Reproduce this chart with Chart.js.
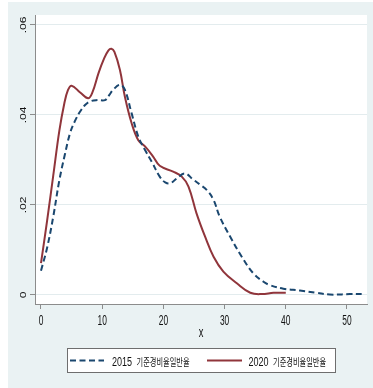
<!DOCTYPE html>
<html>
<head>
<meta charset="utf-8">
<script src="https://cdn.jsdelivr.net/npm/chart.js@4/dist/chart.umd.min.js"></script>
<style>
  html, body { margin: 0; padding: 0; background: #ffffff; }
  canvas { display: block; }
</style>
</head>
<body>
<canvas id="c" width="373" height="388"></canvas>
<script>
// Kernel density estimates of the two rate series
const xs2015 = [0, 1.0, 2.0, 3.0, 3.9, 4.74, 5.5, 6.37, 7.2, 8.0, 9.2, 10.46, 11.2, 11.8, 12.9, 13.7, 14.8, 15.9, 17.0, 18.1, 19.4, 20.3, 21.1, 22.2, 23.5, 24.9, 26.0, 27.1, 28.2, 29.2, 30.9, 32.8, 34.7, 36.3, 37.4, 39.6, 42.3, 45.0, 47.2, 50.5, 52.4];
const ys2015 = [0.0054, 0.0105, 0.0174, 0.0255, 0.0312, 0.0359, 0.0385, 0.0407, 0.0422, 0.0430, 0.0433, 0.0433, 0.0445, 0.0456, 0.0467, 0.0456, 0.0404, 0.0352, 0.0322, 0.0296, 0.0263, 0.0250, 0.0248, 0.0259, 0.0270, 0.0256, 0.0245, 0.0233, 0.0211, 0.0174, 0.0130, 0.0085, 0.0048, 0.0030, 0.0022, 0.0014, 0.0010, 0.0005, 0.0001, 0.0002, 0.0002];

const xs2020 = [0, 1.0, 2.0, 3.0, 3.8, 4.4, 5.0, 6.4, 7.7, 8.4, 9.4, 10.3, 11.0, 11.5, 12.0, 12.9, 13.7, 14.8, 15.9, 17.0, 18.35, 19.4, 21.6, 23.0, 24.1, 25.4, 26.8, 28.2, 29.8, 32.0, 34.2, 36.1, 38.0, 40.0];
const ys2020 = [0.0071, 0.0165, 0.0265, 0.0365, 0.0425, 0.0455, 0.0465, 0.0450, 0.0437, 0.0450, 0.0493, 0.0525, 0.0543, 0.0547, 0.0540, 0.0500, 0.0441, 0.0382, 0.0344, 0.0330, 0.0307, 0.0287, 0.0274, 0.0263, 0.0241, 0.0182, 0.0130, 0.0085, 0.0052, 0.0026, 0.0005, 0.0002, 0.0005, 0.0005];

const seriesNames = ['2015 기준경비율일반율', '2020 기준경비율일반율'];
const xTicks = [0, 10, 20, 30, 40, 50];
const yTicks = [0, 0.02, 0.04, 0.06];
const yTickLabels = ['0', '.02', '.04', '.06'];
const xTitle = 'x';

const BG = '#eaf2f3';
const AXIS = '#8c8c8c';
const NAVY = '#1a476f';
const MAROON = '#90353b';
const LATIN = '"Liberation Sans", Arial, sans-serif';
const KOREAN = '"Noto Sans CJK KR", sans-serif';

function pairs(xs, ys) { return xs.map((x, i) => ({ x: x, y: ys[i] })); }

// draws text squeezed horizontally
function narrowText(ctx, text, x, y, font, sx, align) {
  ctx.save();
  ctx.font = font;
  const w = ctx.measureText(text).width * sx;
  let left = x;
  if (align === 'center') left = x - w / 2;
  ctx.translate(left, y);
  ctx.scale(sx, 1);
  ctx.textAlign = 'left';
  ctx.fillText(text, 0, 0);
  ctx.restore();
  return w;
}

const framePlugin = {
  id: 'frame',
  beforeDraw(chart) {
    const ctx = chart.ctx, a = chart.chartArea;
    ctx.save();
    ctx.fillStyle = '#ffffff';
    ctx.fillRect(0, 0, chart.width, chart.height);
    ctx.fillStyle = BG;
    ctx.fillRect(8, 2, 365, 386);
    ctx.fillStyle = '#ffffff';
    ctx.fillRect(a.left, a.top, a.right - a.left, a.bottom - a.top);
    ctx.restore();
  },
  afterDraw(chart) {
    const ctx = chart.ctx, a = chart.chartArea;
    const xs = chart.scales.x, ys = chart.scales.y;
    ctx.save();
    ctx.fillStyle = '#111111';
    ctx.textBaseline = 'alphabetic';

    // x tick labels
    xs.ticks.forEach(t => {
      narrowText(ctx, String(t.value), xs.getPixelForValue(t.value), a.bottom + 20.5, '14px ' + LATIN, 0.6, 'center');
    });
    // x title
    narrowText(ctx, xTitle, (a.left + a.right) / 2, a.bottom + 33, '15px ' + LATIN, 0.62, 'center');

    // y tick labels, rotated
    ys.ticks.forEach((t, i) => {
      const py = ys.getPixelForValue(t.value);
      ctx.save();
      ctx.translate(23.5, py);
      ctx.scale(0.8, 1);
      ctx.rotate(-Math.PI / 2);
      ctx.font = '12px ' + LATIN;
      ctx.textAlign = 'center';
      ctx.textBaseline = 'middle';
      ctx.fillText(yTickLabels[i], 0, 0);
      ctx.restore();
    });

    // legend
    const bx = 67.5, by = 348.5, bw = 268, bh = 24;
    ctx.fillStyle = '#ffffff';
    ctx.fillRect(bx, by, bw, bh);
    ctx.strokeStyle = '#6e6e6e';
    ctx.lineWidth = 1;
    ctx.strokeRect(bx, by, bw, bh);
    const items = [
      { x0: 70, x1: 104, tx: 112 },
      { x0: 207, x1: 242, tx: 248.5 }
    ];
    chart.data.datasets.forEach((ds, i) => {
      const it = items[i];
      const ly = 360.5;
      ctx.save();
      ctx.strokeStyle = ds.borderColor;
      ctx.lineWidth = 2;
      ctx.setLineDash(ds.borderDash || []);
      ctx.beginPath();
      ctx.moveTo(it.x0, ly);
      ctx.lineTo(it.x1, ly);
      ctx.stroke();
      ctx.restore();
      const parts = ds.label.split(' ');
      ctx.fillStyle = '#111111';
      const w1 = narrowText(ctx, parts[0], it.tx, 366, '12px ' + LATIN, 0.75, 'left');
      narrowText(ctx, parts.slice(1).join(' '), it.tx + w1 + 4.5, 365.5, '10px ' + KOREAN, 0.72, 'left');
    });
    ctx.restore();
  }
};

new Chart(document.getElementById('c'), {
  type: 'line',
  data: {
    datasets: [
      {
        label: seriesNames[0],
        data: pairs(xs2015, ys2015),
        borderColor: NAVY,
        borderWidth: 2,
        borderDash: [6, 3.5],
        pointRadius: 0,
        tension: 0.4,
        fill: false
      },
      {
        label: seriesNames[1],
        data: pairs(xs2020, ys2020),
        borderColor: MAROON,
        borderWidth: 2,
        pointRadius: 0,
        tension: 0.4,
        fill: false
      }
    ]
  },
  options: {
    responsive: false,
    animation: false,
    devicePixelRatio: 1,
    layout: { padding: { left: 8, right: 6, top: 15, bottom: 0 } },
    plugins: { legend: { display: false }, tooltip: { enabled: false } },
    scales: {
      x: {
        type: 'linear',
        min: -0.98,
        max: 53.27,
        afterBuildTicks: s => { s.ticks = xTicks.map(v => ({ value: v })); },
        afterFit: s => { s.height = 84; },
        ticks: { display: false },
        grid: { drawOnChartArea: false, drawTicks: true, tickLength: 5, tickColor: AXIS, color: AXIS },
        border: { display: true, color: AXIS, width: 1 }
      },
      y: {
        type: 'linear',
        min: -0.002,
        max: 0.0622,
        afterBuildTicks: s => { s.ticks = yTicks.map(v => ({ value: v })); },
        afterFit: s => { s.width = 27; },
        ticks: { display: false },
        grid: { drawOnChartArea: true, drawTicks: true, tickLength: 5, tickColor: AXIS, color: '#e3ecee', lineWidth: 1 },
        border: { display: true, color: AXIS, width: 1 }
      }
    }
  },
  plugins: [framePlugin]
});
</script>
</body>
</html>
